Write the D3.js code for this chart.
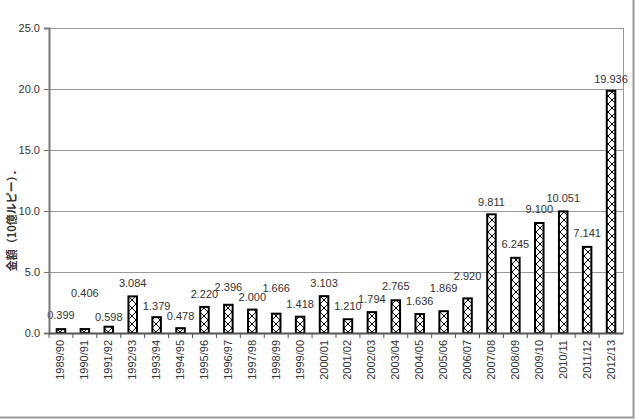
<!DOCTYPE html>
<html>
<head>
<meta charset="utf-8">
<script src="https://cdn.jsdelivr.net/npm/d3@7"></script>
<style>
  body { margin: 0; background: #fff; }
  svg { display: block; font-family: "Liberation Sans", Arial, sans-serif; }
</style>
</head>
<body>
<div id="chart"></div>
<script>
(function() {
    // Fiscal years
    var years = ["1989/90", "1990/91", "1991/92", "1992/93", "1993/94", "1994/95",
        "1995/96", "1996/97", "1997/98", "1998/99", "1999/00", "2000/01",
        "2001/02", "2002/03", "2003/04", "2004/05", "2005/06", "2006/07",
        "2007/08", "2008/09", "2009/10", "2010/11", "2011/12", "2012/13"];

    // Amount, billion rupees
    var amounts = [0.399, 0.406, 0.598, 3.084, 1.379, 0.478,
        2.220, 2.396, 2.000, 1.666, 1.418, 3.103,
        1.210, 1.794, 2.765, 1.636, 1.869, 2.920,
        9.811, 6.245, 9.100, 10.051, 7.141, 19.936];

    var yTicks = [0, 5, 10, 15, 20, 25];

    // How far each value label sits above its bar (px), as placed in the original
    var labelLift = [13, 35, 9, 12, 10, 11, 12, 17, 12, 25, 12, 12,
        12, 12, 13, 12, 22, 21, 11, 13, 13, 12, 13, 11];

    var width = 636, height = 420;
    var margin = {top: 28, right: 13, bottom: 87, left: 49};

    var svg = d3.select("#chart").append("svg")
        .attr("width", width)
        .attr("height", height);

    // Crosshatch fill for the bars
    var pat = svg.append("defs").append("pattern")
        .attr("id", "hatch")
        .attr("patternUnits", "userSpaceOnUse")
        .attr("width", 8)
        .attr("height", 8);
    pat.append("rect").attr("width", 8).attr("height", 8).attr("fill", "#fff");
    pat.append("path")
        .attr("d", "M0,0 L8,8 M8,0 L0,8")
        .attr("stroke", "#000")
        .attr("stroke-width", 1);

    // Outer chart frame
    svg.append("rect")
        .attr("x", -2).attr("y", -2)
        .attr("width", width - 0.5)
        .attr("height", height - 0.5)
        .attr("fill", "none")
        .attr("stroke", "#999")
        .attr("stroke-width", 2);

    var x = d3.scaleBand()
        .domain(years)
        .range([margin.left, width - margin.right])
        .paddingInner(0.56)
        .paddingOuter(0.28);

    var y = d3.scaleLinear()
        .domain([0, 25])
        .range([height - margin.bottom, margin.top]);

    // Gridlines
    svg.append("g")
        .selectAll("line")
        .data(yTicks.slice(1))
        .join("line")
        .attr("x1", margin.left)
        .attr("x2", width - margin.right)
        .attr("y1", function(d) { return y(d) + 0.5; })
        .attr("y2", function(d) { return y(d) + 0.5; })
        .attr("stroke", "#999")
        .attr("stroke-width", 1);

    // Right edge of the plot area
    svg.append("line")
        .attr("x1", width - margin.right + 0.5)
        .attr("x2", width - margin.right + 0.5)
        .attr("y1", margin.top)
        .attr("y2", height - margin.bottom)
        .attr("stroke", "#999");

    // Bars
    svg.append("g")
        .selectAll("rect")
        .data(amounts)
        .join("rect")
        .attr("x", function(d, i) { return x(years[i]) + 1; })
        .attr("y", function(d) { return y(d) + 1; })
        .attr("width", x.bandwidth() - 2)
        .attr("height", function(d) { return y(0) - y(d) - 1; })
        .attr("fill", "url(#hatch)")
        .attr("stroke", "#000")
        .attr("stroke-width", 2);

    // Value labels
    svg.append("g")
        .selectAll("text")
        .data(amounts)
        .join("text")
        .attr("x", function(d, i) { return x(years[i]) + x.bandwidth() / 2; })
        .attr("y", function(d, i) { return y(d) - labelLift[i] + 4; })
        .attr("text-anchor", "middle")
        .attr("font-size", "11px")
        .attr("fill", "#333")
        .text(function(d) { return d3.format(".3f")(d); });

    // Y axis
    var yAxis = svg.append("g")
        .attr("transform", "translate(" + margin.left + ",0)")
        .call(d3.axisLeft(y).tickValues(yTicks).tickFormat(d3.format(".1f")).tickSize(5).tickPadding(4));
    yAxis.select(".domain").attr("stroke", "#777").attr("stroke-width", 2);
    yAxis.selectAll(".tick line").attr("stroke", "#777");
    yAxis.selectAll("text").attr("font-size", "11px").attr("fill", "#333")
        .attr("font-family", "Liberation Sans, Arial, sans-serif");

    // X axis, ticks sit between the categories
    var xAxis = svg.append("g")
        .attr("transform", "translate(0," + y(0) + ")")
        .call(d3.axisBottom(x).tickSize(0).tickPadding(6));
    xAxis.select(".domain").attr("stroke", "#555").attr("stroke-width", 2);
    xAxis.selectAll("text")
        .attr("font-size", "11px")
        .attr("fill", "#333")
        .attr("font-family", "Liberation Sans, Arial, sans-serif")
        .attr("transform", "rotate(-90)")
        .attr("text-anchor", "end")
        .attr("x", -7)
        .attr("y", 0)
        .attr("dy", "0.32em");

    xAxis.append("g")
        .selectAll("line")
        .data(years)
        .join("line")
        .attr("x1", function(d) { return x(d) - x.step() * x.paddingInner() / 2; })
        .attr("x2", function(d) { return x(d) - x.step() * x.paddingInner() / 2; })
        .attr("y1", 0)
        .attr("y2", 5)
        .attr("stroke", "#555");

    // Y axis title
    svg.append("text")
        .attr("transform", "translate(16,218) rotate(-90)")
        .attr("text-anchor", "middle")
        .attr("font-size", "11px")
        .attr("font-weight", "bold")
        .attr("font-family", "Noto Sans CJK JP, sans-serif")
        .attr("fill", "#333")
        .text("金額（10億ルピー）．");
})();
</script>
</body>
</html>
